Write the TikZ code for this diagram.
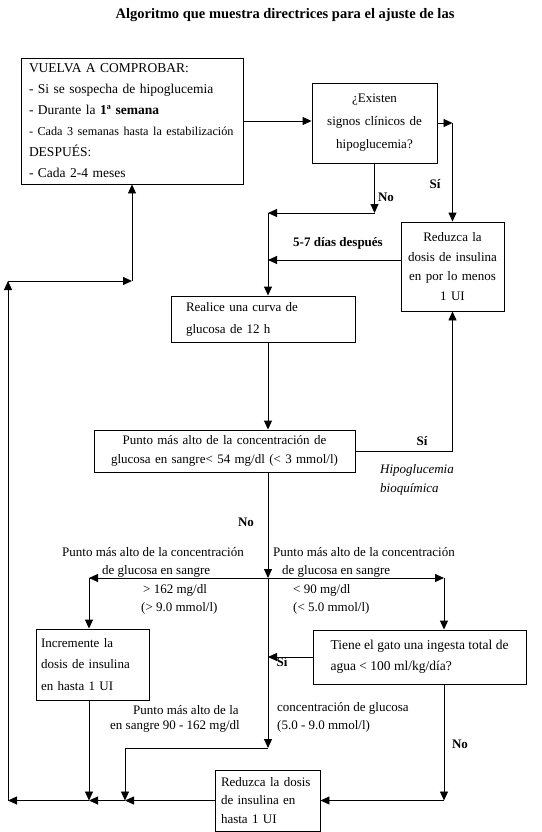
\documentclass[tikz,border=0pt]{standalone}
\usepackage{fontspec}
\setmainfont{Liberation Serif}
\usetikzlibrary{arrows.meta,positioning,calc}

\begin{document}
\begin{tikzpicture}[
    x=1pt,y=-1pt,
    every node/.style={font=\fontsize{13}{19}\selectfont},
    box/.style={draw,line width=0.9pt,inner sep=0pt,align=left},
    arr/.style={line width=0.9pt,-{Triangle[length=9pt,width=8pt]}},
    link/.style={line width=0.9pt},
    answer/.style={font=\fontsize{13}{19}\selectfont\bfseries},
    note/.style={anchor=west,inner sep=0pt},
]
\useasboundingbox (0,0) rectangle (541,832);
% Title
\node[font=\fontsize{14.5}{17}\selectfont\bfseries] (title) at (285,15) {Algoritmo que muestra directrices para el ajuste de las};
% Boxes
\node[box,minimum width=222pt,minimum height=126pt,text width=206pt,font=\fontsize{13.5}{21}\selectfont] (check) at (132,121) {VUELVA A COMPROBAR:\\
- Si se sospecha de hipoglucemia\\
- Durante la \textbf{1ª semana}\\
\mbox{\fontsize{12.2}{21}\selectfont - Cada 3 semanas hasta la estabilización}\\
DESPUÉS:\\
- Cada 2-4 meses};
\node[box,align=center,minimum width=125pt,minimum height=80pt,text width=115pt,font=\fontsize{13}{23}\selectfont] (signs) at (374.5,123) {¿Existen\\ signos clínicos de\\ hipoglucemia?};
\node[box,align=center,minimum width=103pt,minimum height=89pt,text width=100pt,font=\fontsize{13}{19.5}\selectfont] (reduce) at (452.5,266.5) {Reduzca la\\ dosis de insulina\\ en por lo menos\\ 1 UI};
\node[box,minimum width=184pt,minimum height=46pt,text width=154pt,font=\fontsize{13}{22}\selectfont] (curve) at (263,319) {Realice una curva de\\ glucosa de 12 h};
\node[box,align=center,minimum width=261pt,minimum height=42pt,text width=258pt] (peak) at (224.5,451) {Punto más alto de la concentración de\\ glucosa en sangre< 54 mg/dl (< 3 mmol/l)};
\node[box,minimum width=113pt,minimum height=71pt,text width=103pt,font=\fontsize{13}{21.5}\selectfont] (raise) at (92.5,664.5) {Incremente la\\ dosis de insulina\\ en hasta 1 UI};
\node[box,minimum width=213pt,minimum height=54pt,font=\fontsize{13.5}{21}\selectfont] (water) at (419.5,657) {Tiene el gato una ingesta total de\\ agua < 100 ml/kg/día?};
\node[box,minimum width=105pt,minimum height=61pt,text width=93pt,font=\fontsize{13}{18.5}\selectfont] (lower) at (267.5,800.5) {Reduzca la dosis\\ de insulina en\\ hasta 1 UI};
% Junctions
\coordinate (nojoin) at (268,213);
\coordinate (laterjoin) at (268,260);
\coordinate (split) at (268,578);
\coordinate (splitl) at (89,578);
\coordinate (splitr) at (444,578);
\coordinate (midturn) at (268,748);
\coordinate (midleft) at (125,748);
\coordinate (edge) at (8,800.5);
\coordinate (edgetop) at (8,281);
\coordinate (backup) at (132,281);
% Connectors
\draw[arr] (check.east) -- (check.east -| signs.west);
\draw[arr] (signs.east) -- (signs.east -| reduce.north);
\draw[arr] (signs.east -| reduce.north) -- (reduce.north);
\draw[arr] (signs.south) -- (signs.south |- nojoin);
\draw[arr] (signs.south |- nojoin) -- (nojoin);
\draw[arr] (laterjoin -| reduce.west) -- (laterjoin);
\draw[arr] (nojoin) -- (nojoin |- curve.north);
\draw[arr] (curve.south -| nojoin) -- (peak.north -| nojoin);
\draw[link] (peak.east) -- (peak.east -| reduce.south);
\draw[arr] (peak.east -| reduce.south) -- (reduce.south);
\draw[arr] (peak.south -| split) -- (split);
\draw[arr] (split) -- (splitl);
\draw[arr] (split) -- (splitr);
\draw[arr] (splitl) -- (splitl |- raise.north);
\draw[arr] (splitr) -- (splitr |- water.north);
\draw[arr] (water.west) -- (water.west -| split);
\draw[arr] (split) -- (midturn);
\draw[arr] (midturn) -- (midleft) -- (midleft |- lower.west);
\draw[arr] (raise.south -| splitl) -- (splitl |- lower.west);
\draw[arr] (water.south -| splitr) -- (splitr |- lower.east);
\draw[arr] (splitr |- lower.east) -- (lower.east);
\draw[arr] (lower.west) -- (midleft |- lower.west);
\draw[arr] (midleft |- lower.west) -- (splitl |- lower.west);
\draw[arr] (splitl |- lower.west) -- (edge);
\draw[arr] (edge) -- (edgetop);
\draw[arr] (edgetop) -- (backup);
\draw[arr] (backup) -- (check.south);
% Labels
\node[answer] (no1) at (386,197) {No};
\node[answer] (si1) at (435,184) {Sí};
\node[answer] (later) at (338,243) {5-7 días después};
\node[answer] (si2) at (422,441) {Sí};
\node[note,font=\fontsize{13}{19}\selectfont\itshape,align=left] (bio) at (380,480) {Hipoglucemia\\ bioquímica};
\node[answer] (no2) at (246,522) {No};
\node[note] (highA) at (62,552) {Punto más alto de la concentración};
\node[note] (highB) at (102,571) {de glucosa en sangre};
\node[note] (highC) at (143,590) {> 162 mg/dl};
\node[note] (highD) at (141,608) {(> 9.0 mmol/l)};
\node[note] (lowA) at (273,552) {Punto más alto de la concentración};
\node[note] (lowB) at (282,571) {de glucosa en sangre};
\node[note] (lowC) at (293,590) {< 90 mg/dl};
\node[note] (lowD) at (293,608) {(< 5.0 mmol/l)};
\node[answer] (si3) at (282,662) {Sí};
\node[note] (midA) at (133,710) {Punto más alto de la};
\node[note] (midB) at (110,726) {en sangre 90 - 162 mg/dl};
\node[note] (midC) at (277,708) {concentración de glucosa};
\node[note] (midD) at (277,726) {(5.0 - 9.0 mmol/l)};
\node[answer] (no3) at (460,744) {No};
\end{tikzpicture}
\end{document}
